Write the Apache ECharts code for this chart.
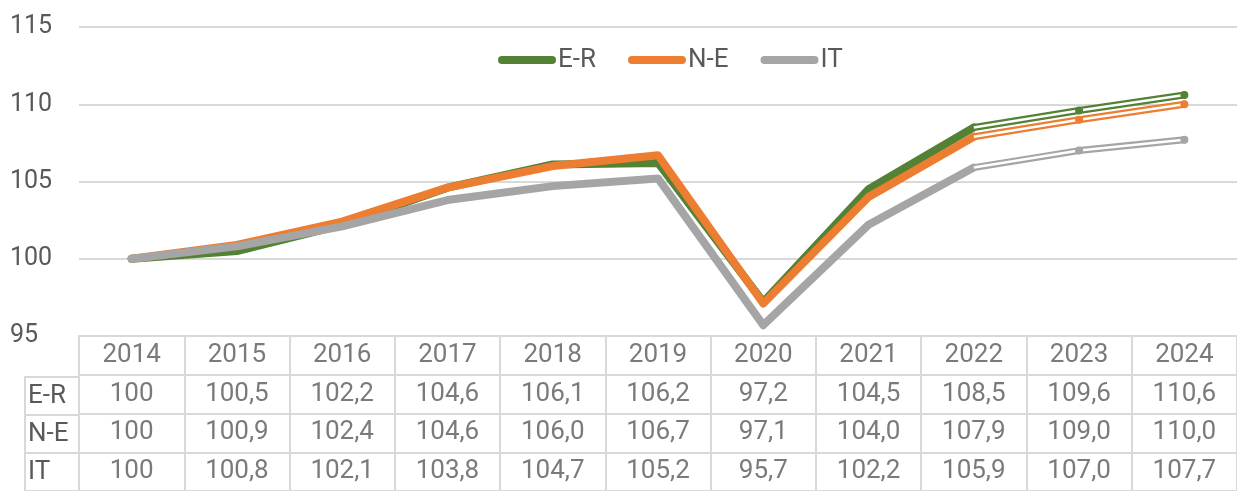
<!DOCTYPE html>
<html>
<head>
    <meta charset="utf-8">
    <title>ECharts</title>
    <script src="https://cdn.jsdelivr.net/npm/echarts@6/dist/echarts.min.js"></script>
    <style>
        html, body { margin: 0; padding: 0; background: #fff; }
    </style>
</head>
<body>
<div id="main" style="width: 1237px;height:491px;"></div>
<script type="text/javascript">
    // dati
    var anni = ['2014', '2015', '2016', '2017', '2018', '2019', '2020', '2021', '2022', '2023', '2024'];
    var er = [100, 100.5, 102.2, 104.6, 106.1, 106.2, 97.2, 104.5, 108.5, 109.6, 110.6];
    var ne = [100, 100.9, 102.4, 104.6, 106.0, 106.7, 97.1, 104.0, 107.9, 109.0, 110.0];
    var it = [100, 100.8, 102.1, 103.8, 104.7, 105.2, 95.7, 102.2, 105.9, 107.0, 107.7];
    var nomi = ['E-R', 'N-E', 'IT'];
    var colori = ['#548235', '#ED7D31', '#A5A5A5'];
    var primoPrev = 8; // 2022: da qui in poi linea doppia (previsione)

    var testo = '#595959';
    var bordo = '#d9d9d9';
    var font = 'Roboto';
    var fs = 25;   // etichette asse
    var fsT = 26;  // tabella e legenda

    var serie = [er, ne, it];

    function fmt(v, i) {
        return i === 0 ? String(v) : v.toFixed(1).replace('.', ',');
    }

    var series = [];
    serie.forEach(function (vals, k) {
        // tratto storico
        series.push({
            name: nomi[k],
            type: 'line',
            xAxisIndex: 0, yAxisIndex: 0,
            data: vals.map(function (v, i) { return i <= primoPrev ? v : null; }),
            showSymbol: false,
            color: colori[k],
            lineStyle: { width: 8, color: colori[k], cap: 'round', join: 'round' },
            z: 2 + k,
            animation: false
        });
        // previsione: contorno colorato
        series.push({
            name: nomi[k] + ' prev',
            type: 'line',
            xAxisIndex: 0, yAxisIndex: 0,
            data: vals.map(function (v, i) { return i >= primoPrev ? v : null; }),
            showSymbol: false,
            lineStyle: { width: 7, color: colori[k], cap: 'round', join: 'round' },
            z: 2 + k,
            animation: false
        });
        // previsione: riga bianca interna + punti
        series.push({
            name: nomi[k] + ' prev2',
            type: 'line',
            xAxisIndex: 0, yAxisIndex: 0,
            data: vals.map(function (v, i) {
                if (i < primoPrev) return null;
                if (i === primoPrev) return { value: v, symbol: 'none' };
                return v;
            }),
            symbol: 'circle',
            symbolSize: 8,
            showAllSymbol: true,
            itemStyle: { color: colori[k], borderWidth: 0 },
            lineStyle: { width: 2.5, color: '#fff', cap: 'butt' },
            z: 2 + k,
            animation: false
        });
    });

    // tabella: intestazione anni
    series.push({
        type: 'scatter',
        xAxisIndex: 1, yAxisIndex: 1,
        symbolSize: 0,
        silent: true,
        data: anni.map(function (a, i) { return [i, 0, a]; }),
        label: {
            show: true, position: 'inside',
            formatter: function (p) { return p.data[2]; },
            color: testo, fontFamily: font, fontSize: fsT
        },
        animation: false
    });
    // tabella: valori
    serie.forEach(function (vals, k) {
        series.push({
            type: 'scatter',
            xAxisIndex: 1, yAxisIndex: 1,
            symbolSize: 0,
            silent: true,
            data: vals.map(function (v, i) { return [i, k + 1, fmt(v, i)]; }),
            label: {
                show: true, position: 'inside',
                formatter: function (p) { return p.data[2]; },
                color: testo, fontFamily: font, fontSize: fsT
            },
            animation: false
        });
    });

    var myChart = echarts.init(document.getElementById('main'));

    myChart.setOption({
        backgroundColor: '#fff',
        textStyle: { fontFamily: font },
        legend: {
            data: nomi,
            left: 493,
            top: 42,
            itemWidth: 58,
            itemHeight: 8,
            itemGap: 32,
            icon: 'path://M4,0 L54,0 A4,4 0 0 1 54,8 L4,8 A4,4 0 0 1 4,0 Z',
            textStyle: { color: testo, fontSize: fsT, fontFamily: font, padding: [0, 0, 0, -3] }
        },
        grid: [
            { left: 79, top: 27, width: 1167, height: 309 },
            { left: 79, top: 336, width: 1167, height: 162, show: true, borderColor: bordo, borderWidth: 2 },
            { left: 25, top: 377, width: 54, height: 121, show: true, borderColor: bordo, borderWidth: 2 }
        ],
        xAxis: [
            {
                type: 'category', gridIndex: 0, data: anni,
                axisLine: { show: false }, axisTick: { show: false }, axisLabel: { show: false }
            },
            {
                type: 'category', gridIndex: 1, data: anni,
                axisLine: { show: false }, axisTick: { show: false }, axisLabel: { show: false },
                splitLine: { show: true, lineStyle: { color: bordo, width: 2 } }
            },
            {
                type: 'value', gridIndex: 2, show: false
            }
        ],
        yAxis: [
            {
                type: 'value', gridIndex: 0, min: 95, max: 115, interval: 5,
                axisLine: { show: false }, axisTick: { show: false },
                axisLabel: { color: testo, fontSize: fs, fontFamily: font, align: 'left', margin: 69 },
                splitLine: { lineStyle: { color: bordo, width: 2 } }
            },
            {
                type: 'category', gridIndex: 1, inverse: true, data: ['', 'E-R', 'N-E', 'IT'],
                axisLine: { show: false }, axisTick: { show: false }, axisLabel: { show: false },
                splitLine: { show: true, lineStyle: { color: bordo, width: 2 } }
            },
            {
                type: 'category', gridIndex: 2, inverse: true, data: nomi,
                axisLine: { show: false }, axisTick: { show: false },
                axisLabel: { inside: true, margin: 3, color: testo, fontSize: fsT, fontFamily: font },
                splitLine: { show: true, lineStyle: { color: bordo, width: 2 } }
            }
        ],
        series: series
    });
</script>
</body>
</html>
